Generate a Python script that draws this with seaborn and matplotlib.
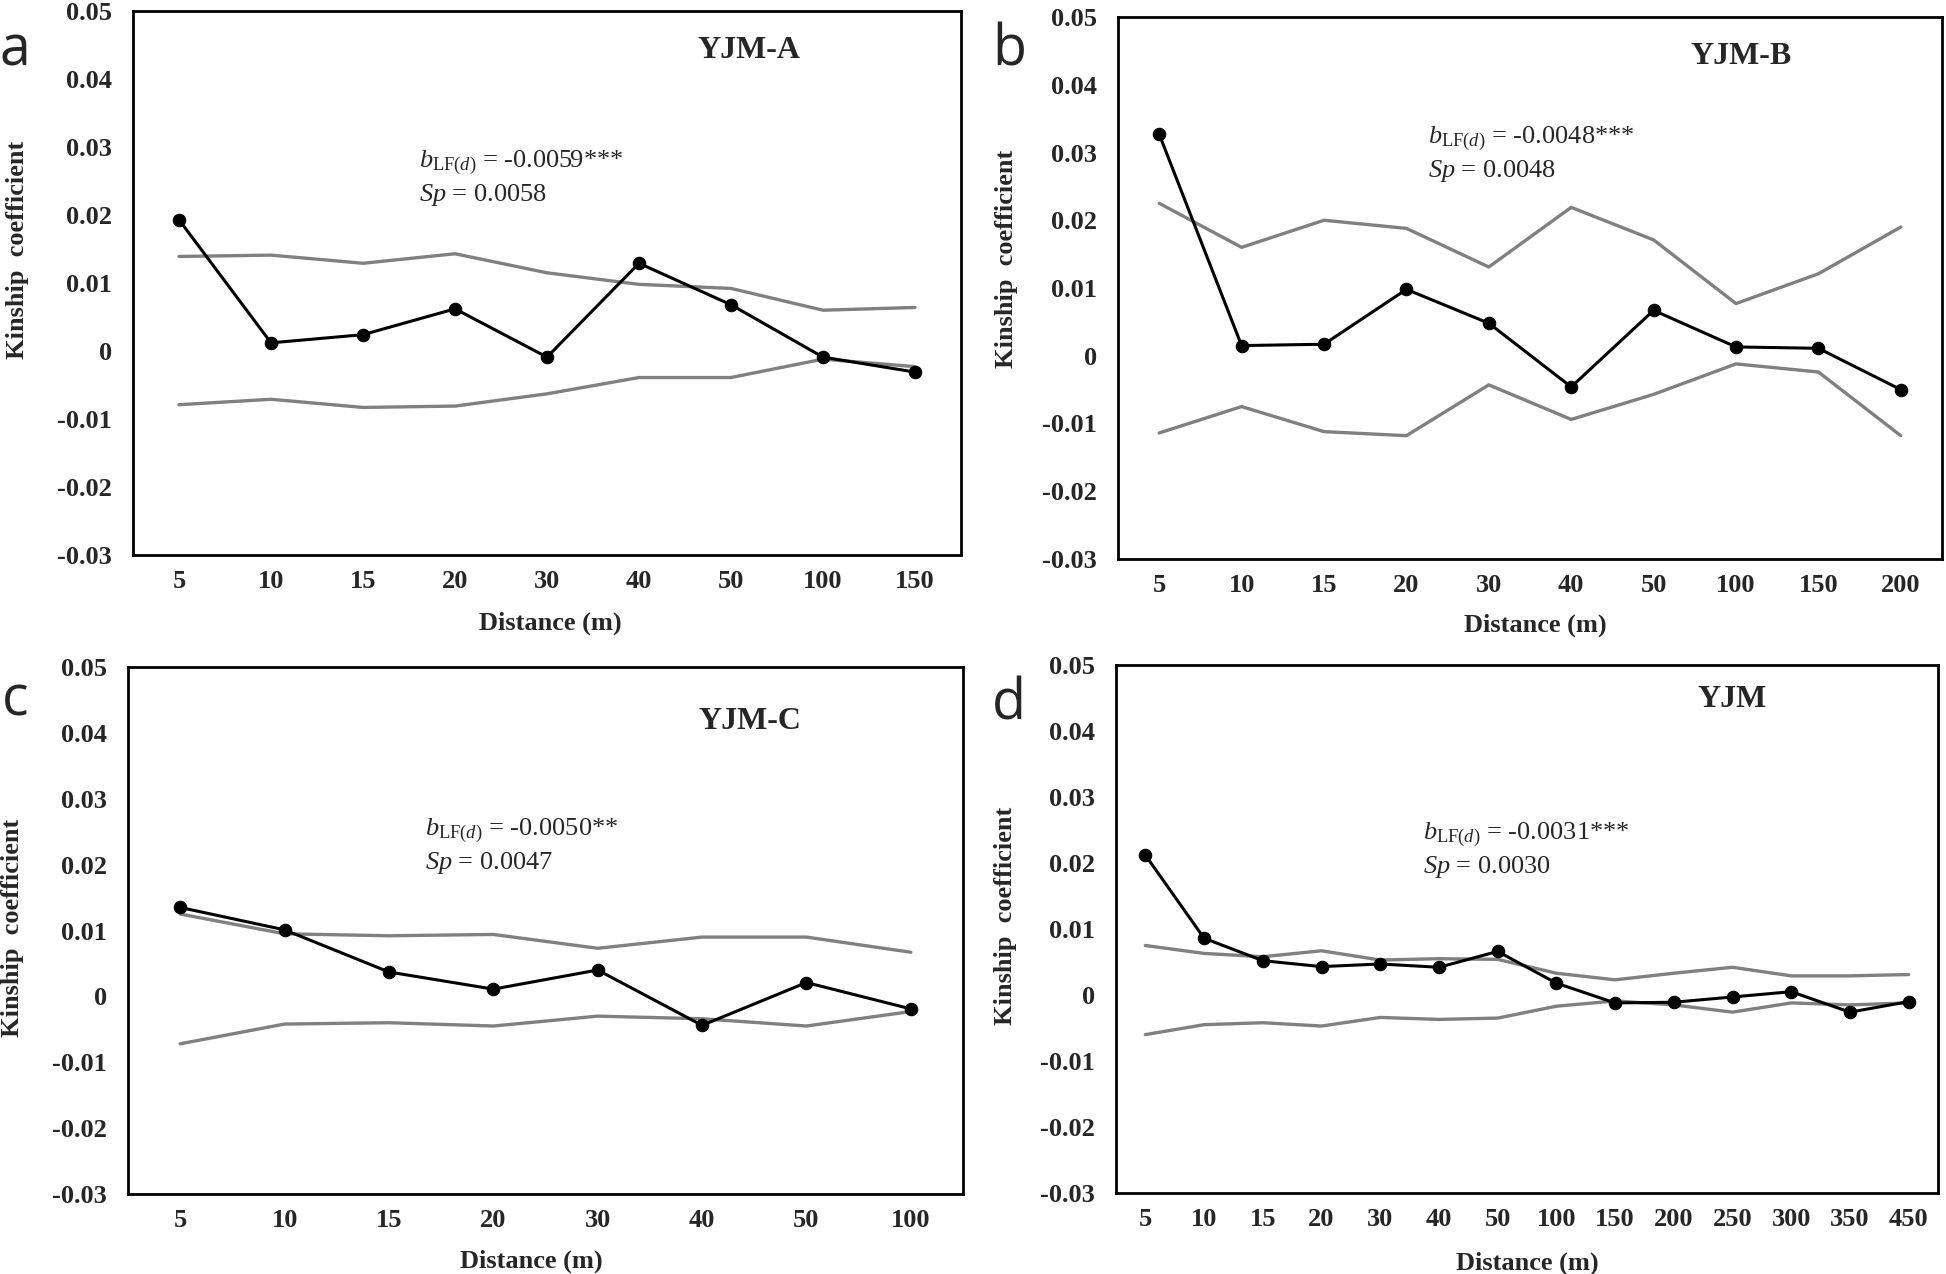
import matplotlib
matplotlib.use("Agg")
import matplotlib.pyplot as plt
import numpy as np
import seaborn as sns

# ---------------------------------------------------------------------------
# Data
# ---------------------------------------------------------------------------
dist_a = ["5", "10", "15", "20", "30", "40", "50", "100", "150"]
obs_a = [0.0193, 0.0012, 0.0024, 0.0062, -0.0009, 0.0129, 0.0068, -0.0009, -0.0031]
upper_a = [0.0139, 0.0141, 0.0129, 0.0143, 0.0115, 0.0098, 0.0092, 0.0060, 0.0064]
lower_a = [-0.0079, -0.0071, -0.0083, -0.0081, -0.0063, -0.0039, -0.0039, -0.0012, -0.0023]

dist_b = ["5", "10", "15", "20", "30", "40", "50", "100", "150", "200"]
obs_b = [0.0327, 0.0015, 0.0017, 0.0098, 0.0048, -0.0046, 0.0067, 0.0013, 0.0011, -0.0050]
upper_b = [0.0225, 0.0160, 0.0200, 0.0188, 0.0131, 0.0219, 0.0171, 0.0077, 0.0121, 0.0190]
lower_b = [-0.0114, -0.0075, -0.0112, -0.0118, -0.0043, -0.0094, -0.0057, -0.0012, -0.0024, -0.0118]

dist_c = ["5", "10", "15", "20", "30", "40", "50", "100"]
obs_c = [0.0135, 0.0101, 0.0037, 0.0011, 0.0040, -0.0044, 0.0021, -0.0019]
upper_c = [0.0125, 0.0095, 0.0092, 0.0094, 0.0073, 0.0090, 0.0090, 0.0067]
lower_c = [-0.0072, -0.0042, -0.0040, -0.0045, -0.0030, -0.0034, -0.0045, -0.0023]

dist_d = ["5", "10", "15", "20", "30", "40", "50", "100", "150", "200",
          "250", "300", "350", "450"]
obs_d = [0.0212, 0.0086, 0.0052, 0.0043, 0.0047, 0.0042, 0.0066, 0.0018,
         -0.0012, -0.0011, -0.0003, 0.0005, -0.0026, -0.0010]
upper_d = [0.0075, 0.0063, 0.0058, 0.0067, 0.0053, 0.0055, 0.0054, 0.0033,
           0.0023, 0.0033, 0.0042, 0.0029, 0.0029, 0.0031]
lower_d = [-0.0060, -0.0045, -0.0042, -0.0047, -0.0034, -0.0037, -0.0035, -0.0017,
           -0.0009, -0.0015, -0.0026, -0.0012, -0.0015, -0.0012]

titles = ["YJM-A", "YJM-B", "YJM-C", "YJM"]
letters = ["a", "b", "c", "d"]
slopes = ["-0.0059***", "-0.0048***", "-0.0050**", "-0.0031***"]
sps = ["0.0058", "0.0048", "0.0047", "0.0030"]
yticks = [-0.03, -0.02, -0.01, 0, 0.01, 0.02, 0.03, 0.04, 0.05]
ytick_labels = ["-0.03", "-0.02", "-0.01", "0", "0.01", "0.02", "0.03", "0.04", "0.05"]

# ---------------------------------------------------------------------------
# Style
# ---------------------------------------------------------------------------
sns.set_theme(style="white")
plt.rcParams["font.family"] = ["Liberation Serif", "DejaVu Serif"]
plt.rcParams["mathtext.fontset"] = "custom"
plt.rcParams["mathtext.rm"] = "Liberation Serif"
plt.rcParams["mathtext.it"] = "Liberation Serif:italic"

W, H = 1946, 1274
fig = plt.figure(figsize=(W / 100, H / 100), dpi=100)

# panel boxes in pixels: left, right, top, bottom
boxes = [
    (133, 961, 11, 555),
    (1118, 1942, 17, 559),
    (128, 963, 667, 1194),
    (1116, 1938, 665, 1193),
]
# letter baselines (x, y) in pixels
letter_pos = [(0, 65), (992, 66), (2, 716), (992, 719)]
# ylabel / xlabel coords in axes fractions, annotation y in data units
ylab = [(-0.125, 0.56), (-0.121, 0.553), (-0.125, 0.505), (-0.12, 0.525)]
xlab = [(0.504, -0.104), (0.506, -0.101), (0.483, -0.106), (0.50, -0.11)]
annot = [(0.345, 0.0277, 0.0230), (0.376, 0.0321, 0.0273),
         (0.356, 0.0252, 0.0203), (0.373, 0.0243, 0.0194)]
title_pos = [(0.744, 0.0442), (0.756, 0.0442), (0.745, 0.0418), (0.75, 0.0448)]

panels = [
    (dist_a, obs_a, upper_a, lower_a),
    (dist_b, obs_b, upper_b, lower_b),
    (dist_c, obs_c, upper_c, lower_c),
    (dist_d, obs_d, upper_d, lower_d),
]

for i, (dist, obs, upper, lower) in enumerate(panels):
    l, r, t, b = boxes[i]
    ax = fig.add_axes([l / W, 1 - b / H, (r - l) / W, (b - t) / H])
    x = np.arange(len(dist))

    # 95% confidence envelope (grey) and observed kinship (black)
    sns.lineplot(x=x, y=upper, color="#808080", lw=2.4, sort=False, ax=ax)
    sns.lineplot(x=x, y=lower, color="#808080", lw=2.4, sort=False, ax=ax)
    sns.lineplot(x=x, y=obs, color="black", lw=2.2, marker="o",
                 markersize=9, markeredgecolor="black", sort=False, ax=ax)

    ax.set_xlim(-0.5, len(dist) - 0.5)
    ax.set_ylim(-0.03, 0.05)
    ax.set_xticks(x)
    ax.set_xticklabels(dist, fontsize=19, fontweight="bold")
    ax.set_yticks(yticks)
    ax.set_yticklabels(ytick_labels, fontsize=19, fontweight="bold")
    ax.tick_params(axis="both", direction="in", length=5, width=1.8)
    ax.tick_params(axis="y", pad=15)
    ax.tick_params(axis="x", pad=11)
    for s in ax.spines.values():
        s.set_visible(True)
        s.set_color("black")
        s.set_linewidth(2.0)

    ax.set_xlabel("Distance (m)", fontsize=19, fontweight="bold")
    ax.set_ylabel("Kinship  coefficient", fontsize=19, fontweight="bold")
    ax.xaxis.set_label_coords(*xlab[i])
    ax.yaxis.set_label_coords(*ylab[i])

    tx, ty = title_pos[i]
    ax.text(tx, ty, titles[i], transform=ax.get_yaxis_transform(),
            ha="center", va="center", fontsize=23, fontweight="bold")

    axx, y1, y2 = annot[i]
    ax.text(axx, y1, r"$b_{\mathrm{LF}(d)}$ = " + slopes[i],
            transform=ax.get_yaxis_transform(), ha="left", va="center", fontsize=19)
    ax.text(axx, y2, r"$Sp$ = " + sps[i],
            transform=ax.get_yaxis_transform(), ha="left", va="center", fontsize=19)

    lx, ly = letter_pos[i]
    fig.text(lx / W, 1 - ly / H, letters[i], ha="left", va="baseline",
             fontsize=40, family=["Open Sans", "DejaVu Sans"])

fig.savefig("out.png", dpi=100)
